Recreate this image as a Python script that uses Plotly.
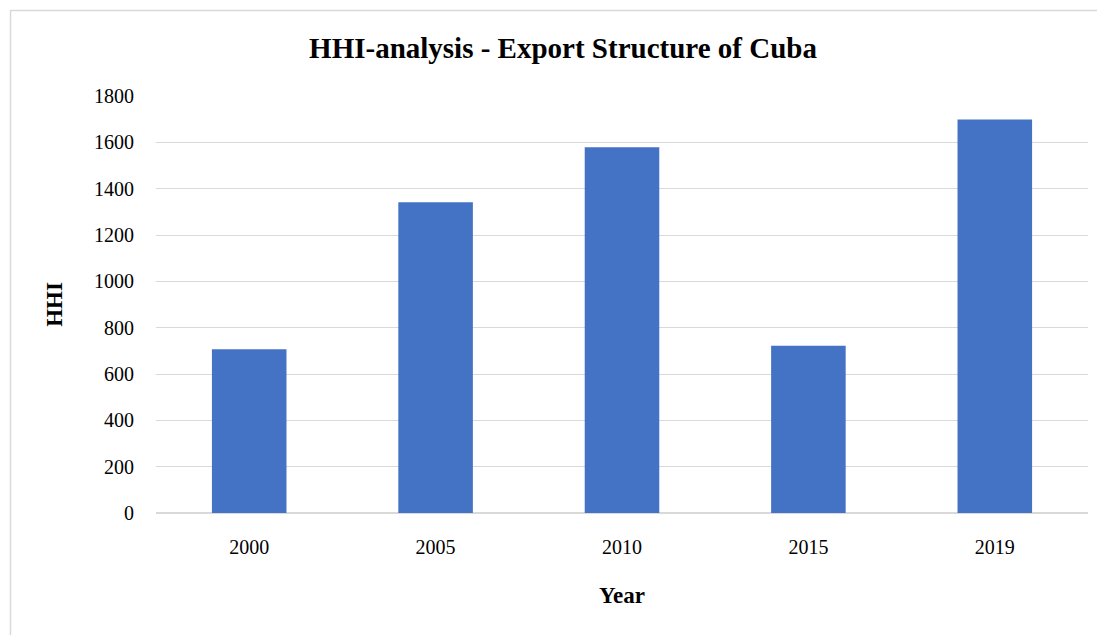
import plotly.graph_objects as go

years = ["2000", "2005", "2010", "2015", "2019"]
hhi = [707, 1341, 1579, 722, 1699]

# page body has an 8px margin, so the figure is shrunk by that amount
W, H = 1097, 627
ml, mr, mt, mb = 148, 17, 88, 122

fig = go.Figure()
fig.add_trace(go.Bar(x=years, y=hhi, marker=dict(color="#4472C4", line=dict(width=0)), width=0.4))

pw = W - ml - mr
ph = H - mt - mb
def px(x):
    return (x - ml) / pw
def py(y):
    return (H - mb - y) / ph

fig.add_shape(type="rect", xref="paper", yref="paper",
              x0=px(2.5), x1=px(1110), y0=py(2.5), y1=py(640),
              line=dict(color="#D9D9D9", width=1.5), fillcolor="rgba(0,0,0,0)", layer="below")

fig.update_layout(
    width=W, height=H,
    margin=dict(l=ml, r=mr, t=mt, b=mb),
    paper_bgcolor="white", plot_bgcolor="white",
    font=dict(family="Liberation Serif", size=20, color="#000000"),
    title=dict(text="<b>HHI-analysis - Export Structure of Cuba</b>", x=(563 - 8) / W, xanchor="center",
               y=1 - 40 / H, yanchor="middle", font=dict(size=29)),
    showlegend=False,
    xaxis=dict(title=dict(text="<b>Year</b>", font=dict(size=23), standoff=29),
               showgrid=False, showline=False, ticks="", tickfont=dict(size=20),
               ticklabelstandoff=20),
    yaxis=dict(title=dict(text="<b>HHI</b>", font=dict(size=23), standoff=24),
               range=[0, 1800], dtick=200, showgrid=True, gridcolor="#D9D9D9", gridwidth=1.3,
               zeroline=True, zerolinecolor="#D9D9D9", zerolinewidth=1.5,
               ticks="", ticklabelstandoff=21, tickfont=dict(size=20)),
)

fig.write_html("out.html")
